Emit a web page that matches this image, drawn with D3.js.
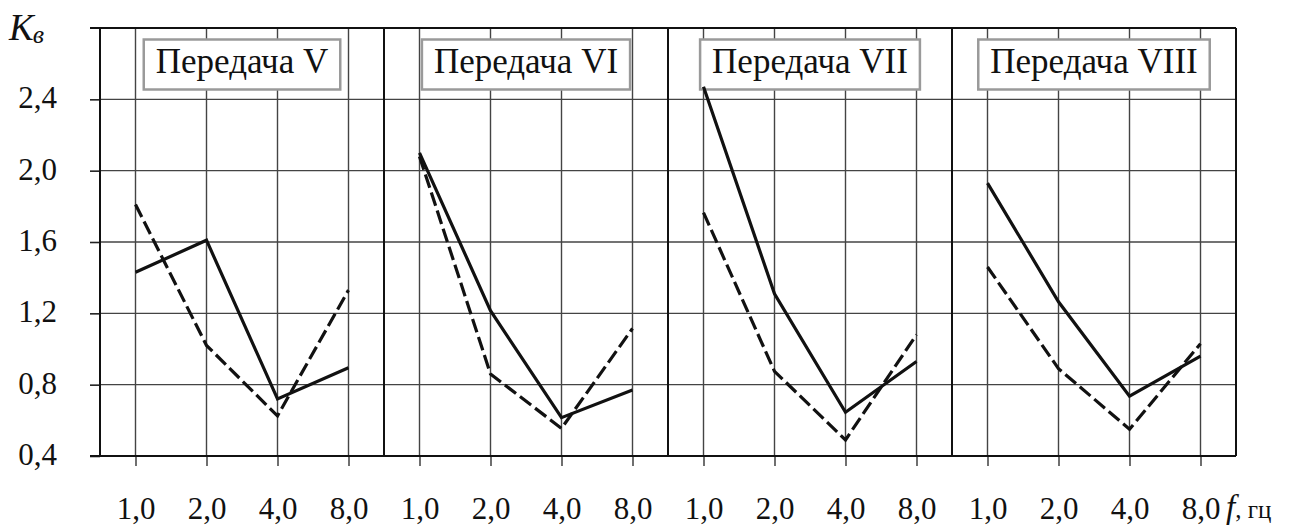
<!DOCTYPE html>
<html>
  <head>
    <style>
      body {
        margin: 0;
        background: #fff;
      }
    </style>
  </head>
  <body>
    <svg id="chart" width="1307" height="528"></svg>
    <script src="https://d3js.org/d3.v7.min.js"></script>
    <script>
      // categories
      const freqs = ["1,0", "2,0", "4,0", "8,0"];
      const gears = ["Передача V", "Передача VI", "Передача VII", "Передача VIII"];
      const yTicks = [0.4, 0.8, 1.2, 1.6, 2.0, 2.4];

      // K_в values, solid and dashed curve for each gear
      const solidV = [1.43, 1.61, 0.72, 0.895];
      const dashedV = [1.81, 1.02, 0.625, 1.33];
      const solidVI = [2.1, 1.215, 0.615, 0.77];
      const dashedVI = [2.08, 0.86, 0.555, 1.115];
      const solidVII = [2.47, 1.31, 0.645, 0.93];
      const dashedVII = [1.765, 0.875, 0.49, 1.08];
      const solidVIII = [1.93, 1.265, 0.735, 0.96];
      const dashedVIII = [1.46, 0.89, 0.55, 1.03];

      const solids = [solidV, solidVI, solidVII, solidVIII];
      const dashes = [dashedV, dashedVI, dashedVII, dashedVIII];

      const plotLeft = 100,
        plotRight = 1236,
        plotTop = 28,
        plotBottom = 456;
      const serif = "'Liberation Serif', 'Times New Roman', serif";

      const svg = d3.select("#chart");

      const y = d3.scaleLinear().domain([0.4, 2.8]).range([plotBottom, plotTop]);
      const panel = d3.scaleBand().domain(gears).range([plotLeft, plotRight]);
      const x = d3
        .scalePoint()
        .domain(freqs)
        .range([0, panel.bandwidth()])
        .padding(0.5);

      const comma = v => d3.format(".1f")(v).replace(".", ",");

      // horizontal grid
      svg
        .append("g")
        .selectAll("line")
        .data(yTicks)
        .join("line")
        .attr("x1", plotLeft)
        .attr("x2", plotRight)
        .attr("y1", d => y(d))
        .attr("y2", d => y(d))
        .attr("stroke", "#444")
        .attr("stroke-width", 1.4);

      // y axis labels + short ticks left of the frame
      const yAxis = svg
        .append("g")
        .attr("transform", `translate(${plotLeft},0)`)
        .call(
          d3
            .axisLeft(y)
            .tickValues(yTicks)
            .tickSize(10)
            .tickPadding(33)
            .tickFormat(comma)
        );
      yAxis.select(".domain").remove();
      yAxis.selectAll("line").attr("stroke", "#222").attr("stroke-width", 1.6);
      yAxis
        .selectAll("text")
        .style("font-family", serif)
        .style("font-size", "31px")
        .attr("fill", "#111")
        .attr("dy", "0.27em");

      gears.forEach((g, i) => {
        const ox = panel(g);
        const gp = svg.append("g").attr("transform", `translate(${ox},0)`);

        // vertical grid
        gp.selectAll("line.vg")
          .data(freqs)
          .join("line")
          .attr("class", "vg")
          .attr("x1", d => x(d))
          .attr("x2", d => x(d))
          .attr("y1", plotTop)
          .attr("y2", plotBottom)
          .attr("stroke", "#444")
          .attr("stroke-width", 1.4);

        // bottom axis with labels
        const xa = gp
          .append("g")
          .attr("transform", `translate(0,${plotBottom})`)
          .call(d3.axisBottom(x).tickSize(10).tickPadding(31));
        xa.select(".domain").remove();
        xa.selectAll("line").attr("stroke", "#333").attr("stroke-width", 1.4);
        xa.selectAll("text")
          .style("font-family", serif)
          .style("font-size", "31px")
          .attr("fill", "#111");

        // title box
        const box = gp.append("rect");
        const t = gp
          .append("text")
          .attr("x", panel.bandwidth() / 2)
          .attr("y", 73)
          .attr("text-anchor", "middle")
          .style("font-family", serif)
          .style("font-size", "35px")
          .attr("fill", "#111")
          .text(g);
        const w = t.node().getComputedTextLength() + 24;
        box
          .attr("x", panel.bandwidth() / 2 - w / 2)
          .attr("y", 39.5)
          .attr("width", w)
          .attr("height", 50)
          .attr("fill", "#fff")
          .attr("stroke", "#9a9a9a")
          .attr("stroke-width", 2.5);

        const line = d3
          .line()
          .x((d, j) => x(freqs[j]))
          .y(d => y(d));

        gp.append("path")
          .attr("d", line(dashes[i]))
          .attr("fill", "none")
          .attr("stroke", "#111")
          .attr("stroke-width", 3.2)
          .attr("stroke-dasharray", "14,5");
        gp.append("path")
          .attr("d", line(solids[i]))
          .attr("fill", "none")
          .attr("stroke", "#111")
          .attr("stroke-width", 3.2);
      });

      // frame: panel borders, top and bottom lines
      svg
        .append("g")
        .selectAll("line")
        .data(gears.map(g => panel(g)).concat([plotRight]))
        .join("line")
        .attr("x1", d => d)
        .attr("x2", d => d)
        .attr("y1", plotTop)
        .attr("y2", plotBottom)
        .attr("stroke", "#111")
        .attr("stroke-width", 2);
      [plotTop, plotBottom].forEach(yy => {
        svg
          .append("line")
          .attr("x1", plotLeft - 10)
          .attr("x2", plotRight)
          .attr("y1", yy)
          .attr("y2", yy)
          .attr("stroke", "#111")
          .attr("stroke-width", 2.2);
      });

      // axis titles
      const ky = svg
        .append("text")
        .attr("x", 9)
        .attr("y", 40)
        .attr("fill", "#111")
        .style("font-family", serif);
      ky.append("tspan").style("font-style", "italic").style("font-size", "37px").text("K");
      ky.append("tspan")
        .style("font-style", "italic")
        .style("font-size", "26px")
        .attr("dx", -1)
        .attr("dy", 3)
        .text("в");

      const fx = svg
        .append("text")
        .attr("x", 1226)
        .attr("y", 518)
        .attr("fill", "#111")
        .style("font-family", serif);
      fx.append("tspan").style("font-style", "italic").style("font-size", "33px").text("f");
      fx.append("tspan").style("font-size", "25px").text(", гц");
    </script>
  </body>
</html>
